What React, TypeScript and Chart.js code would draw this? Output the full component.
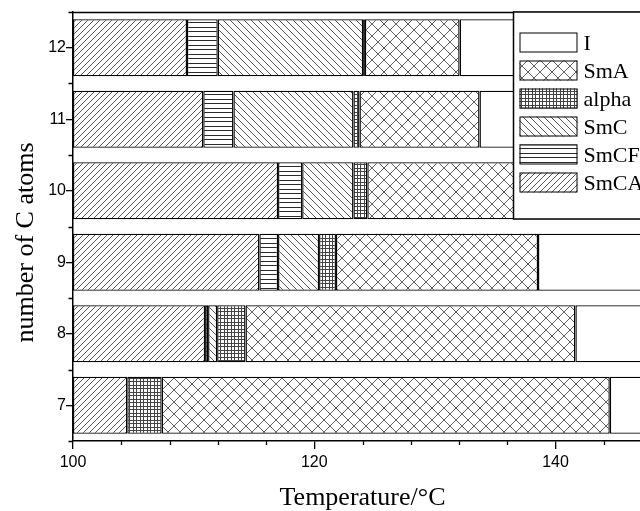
import React, { useEffect, useRef } from 'react';
import { Chart, registerables } from 'chart.js';

Chart.register(...registerables);

// ---- data ----
const carbonNumbers = ['7', '8', '9', '10', '11', '12'];
const phaseLabels = ['SmCA', 'SmCF', 'SmC', 'alpha', 'SmA', 'I'];
// upper transition temperature (°C) of each phase per carbon number; null = phase absent
const smcaEnd = [104.5, 110.95, 115.45, 117.0, 110.8, 109.45];
const smcfEnd = [null, 111.2, 117.0, 119.0, 113.3, 112.0];
const smcEnd = [null, 111.95, 120.4, 123.25, 123.25, 124.05];
const alphaEnd = [107.35, 114.3, 121.8, 124.4, 123.75, 124.2];
const smaEnd = [144.5, 141.65, 138.55, 137.0, 133.7, 132.05];
const iEnd = [148, 148, 148, 148, 148, 148];
const xMin = 100;
const xMax = 148;
const xMajorStep = 20;
const xMinorStep = 4;
const xTitle = 'Temperature/°C';
const yTitle = 'number of C atoms';

const SERIF = "'Liberation Serif', 'Times New Roman', serif";
const SANS = "'Liberation Sans', Arial, sans-serif";

function buildRanges(): ((number[] | null)[])[] {
  const ends = [smcaEnd, smcfEnd, smcEnd, alphaEnd, smaEnd, iEnd];
  return ends.map((arr, p) =>
    arr.map((end, i) => {
      if (end == null) return null;
      let start = xMin;
      for (let q = p - 1; q >= 0; q--) {
        const v = ends[q][i];
        if (v != null) {
          start = v;
          break;
        }
      }
      return [start, end];
    })
  );
}

function makePattern(
  main: CanvasRenderingContext2D,
  w: number,
  h: number,
  draw: (g: CanvasRenderingContext2D, w: number, h: number) => void,
  color = '#3a3a3a',
  lw = 0.85
) {
  const c = document.createElement('canvas');
  c.width = w;
  c.height = h;
  const g = c.getContext('2d')!;
  g.fillStyle = '#fff';
  g.fillRect(0, 0, w, h);
  g.strokeStyle = color;
  g.lineWidth = lw;
  g.beginPath();
  draw(g, w, h);
  g.stroke();
  return main.createPattern(c, 'repeat')!;
}

const slash = (g: CanvasRenderingContext2D, s: number) => {
  for (const k of [-1, 0, 1]) {
    g.moveTo(k * s, s);
    g.lineTo(k * s + s, 0);
  }
};
const backslash = (g: CanvasRenderingContext2D, s: number) => {
  for (const k of [-1, 0, 1]) {
    g.moveTo(k * s, 0);
    g.lineTo(k * s + s, s);
  }
};

const frameAndMinorTicks = {
  id: 'frameAndMinorTicks',
  afterDatasetsDraw(chart: any) {
    const { ctx, chartArea, scales } = chart;
    const x = scales.x;
    const y = scales.y;
    ctx.save();
    ctx.strokeStyle = '#000';
    ctx.lineWidth = 1.3;
    ctx.beginPath();
    for (let v = xMin; v <= xMax; v += xMinorStep) {
      if (v % xMajorStep === 0) continue;
      const px = Math.round(x.getPixelForValue(v)) + 0.5;
      ctx.moveTo(px, chartArea.bottom);
      ctx.lineTo(px, chartArea.bottom + 4);
    }
    for (let i = 0; i <= carbonNumbers.length; i++) {
      const py = Math.round(y.getPixelForValue(i - 0.5)) + 0.5;
      ctx.moveTo(chartArea.left - 4.5, py);
      ctx.lineTo(chartArea.left, py);
    }
    ctx.stroke();
    ctx.lineWidth = 1.5;
    ctx.beginPath();
    ctx.moveTo(chartArea.left, chartArea.top + 0.5);
    ctx.lineTo(chartArea.right, chartArea.top + 0.5);
    ctx.moveTo(chartArea.right, chartArea.top);
    ctx.lineTo(chartArea.right, chartArea.bottom);
    ctx.stroke();
    ctx.restore();
  },
};

const yTitlePlugin = {
  id: 'yTitlePlugin',
  afterDraw(chart: any) {
    const { ctx, chartArea } = chart;
    ctx.save();
    ctx.translate(chartArea.left - 40, (chartArea.top + chartArea.bottom) / 2 + 16);
    ctx.rotate(-Math.PI / 2);
    ctx.fillStyle = '#000';
    ctx.font = `26px ${SERIF}`;
    ctx.textAlign = 'center';
    ctx.textBaseline = 'alphabetic';
    ctx.fillText(yTitle, 0, 0);
    ctx.restore();
  },
};

const boxLegend = {
  id: 'boxLegend',
  afterDraw(chart: any) {
    const { ctx, chartArea } = chart;
    const left = chartArea.right - 138.5;
    const top = chartArea.top;
    const right = chartArea.right;
    const bottom = chartArea.top + 207;
    ctx.save();
    ctx.fillStyle = '#fff';
    ctx.fillRect(left, top, right - left, bottom - top);
    ctx.strokeStyle = '#000';
    ctx.lineWidth = 1.5;
    ctx.strokeRect(left, top, right - left, bottom - top);
    const items = chart.data.datasets.slice().reverse();
    items.forEach((ds: any, i: number) => {
      const sy = top + 20.5 + i * 28;
      const sx = left + 6;
      ctx.fillStyle = ds.backgroundColor;
      ctx.fillRect(sx, sy, 58, 20);
      ctx.lineWidth = 1;
      ctx.strokeStyle = '#000';
      ctx.strokeRect(sx + 0.5, sy + 0.5, 57, 19);
      ctx.fillStyle = '#000';
      ctx.font = `22px ${SERIF}`;
      ctx.textAlign = 'left';
      ctx.textBaseline = 'alphabetic';
      ctx.fillText(ds.label, left + 70, sy + 17.5);
    });
    ctx.restore();
  },
};

export default function App() {
  const ref = useRef<HTMLCanvasElement | null>(null);

  useEffect(() => {
    const canvas = ref.current!;
    const main = canvas.getContext('2d')!;
    const patterns: Record<string, any> = {
      SmCA: makePattern(main, 6, 6, (g, w) => slash(g, w)),
      SmCF: makePattern(main, 8, 9, (g, w) => {
        g.moveTo(0, 0.5);
        g.lineTo(w, 0.5);
        g.moveTo(0, 4.5);
        g.lineTo(w, 4.5);
      }, '#2a2a2a', 1),
      SmC: makePattern(main, 7, 7, (g, w) => backslash(g, w)),
      alpha: makePattern(main, 7, 7, (g, w, h) => {
        for (const p of [0.5, 3.5]) {
          g.moveTo(p, 0);
          g.lineTo(p, h);
          g.moveTo(0, p);
          g.lineTo(w, p);
        }
      }, '#444', 1),
      SmA: makePattern(main, 12, 12, (g, w) => {
        slash(g, w);
        backslash(g, w);
      }, '#444', 0.85),
      I: '#ffffff',
    };
    const ranges = buildRanges();
    const chart = new Chart(canvas, {
      type: 'bar',
      data: {
        labels: carbonNumbers,
        datasets: phaseLabels.map((label, p) => ({
          label,
          data: ranges[p] as any,
          backgroundColor: patterns[label],
          borderColor: '#000',
          borderWidth: 1.4,
          borderSkipped: false,
          grouped: false,
          barPercentage: 0.8,
          categoryPercentage: 1,
        })),
      },
      options: {
        indexAxis: 'y',
        animation: false,
        responsive: false,
        devicePixelRatio: 1,
        layout: { padding: { top: 12, left: 0, right: 0, bottom: 0 } },
        plugins: {
          legend: { display: false },
          tooltip: { enabled: false },
        },
        scales: {
          x: {
            type: 'linear',
            min: xMin,
            max: xMax,
            afterFit: (s: any) => {
              s.height = 70;
            },
            ticks: {
              stepSize: xMajorStep,
              includeBounds: false,
              color: '#000',
              padding: 4,
              font: { family: SANS, size: 16 },
            },
            grid: {
              drawOnChartArea: false,
              drawTicks: true,
              tickLength: 8,
              color: '#000',
              lineWidth: 1.3,
            },
            border: { display: true, color: '#000', width: 1.5 },
            title: {
              display: true,
              text: xTitle,
              color: '#000',
              font: { family: SERIF, size: 26, lineHeight: 1 },
              padding: { top: 0, bottom: 0 },
            },
          },
          y: {
            type: 'category',
            reverse: true,
            offset: true,
            afterFit: (s: any) => {
              s.width = 73;
            },
            ticks: {
              color: '#000',
              padding: 0,
              font: { family: SANS, size: 16 },
            },
            grid: {
              offset: false,
              drawOnChartArea: false,
              drawTicks: true,
              tickLength: 7,
              color: '#000',
              lineWidth: 1.3,
            },
            border: { display: true, color: '#000', width: 1.5 },
          },
        },
      },
      plugins: [frameAndMinorTicks, yTitlePlugin, boxLegend],
    } as any);
    return () => chart.destroy();
  }, []);

  return (
    <div
      style={{
        position: 'fixed',
        left: 0,
        top: 0,
        width: 640,
        height: 511,
        overflow: 'hidden',
        background: '#fff',
      }}
    >
      <canvas ref={ref} width={652} height={511} style={{ display: 'block', width: 652, height: 511 }} />
    </div>
  );
}
